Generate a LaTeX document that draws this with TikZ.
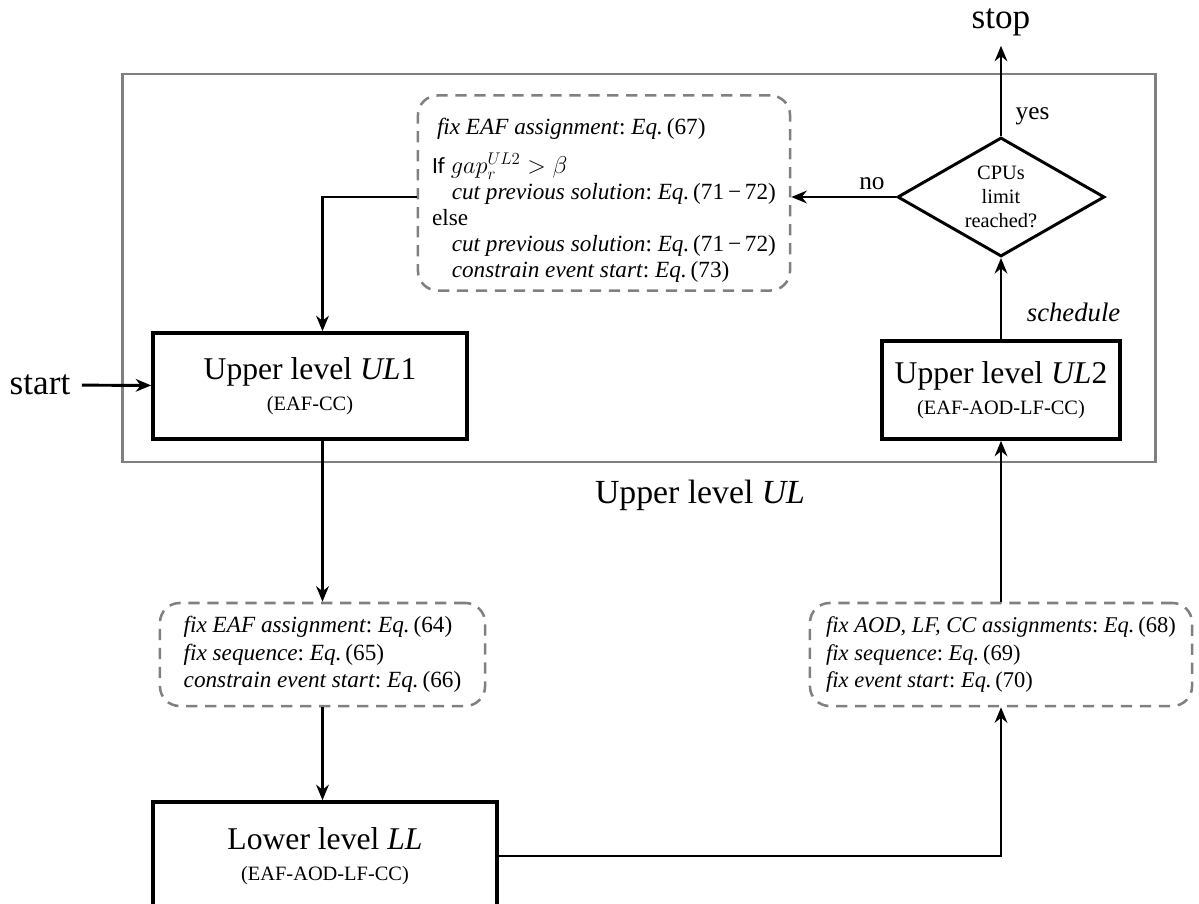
\documentclass[tikz,border=0pt]{standalone}
\usepackage{fontspec}
\setmainfont{Liberation Serif}
\newfontfamily\calfont{Carlito}
\usepackage{tikz}
\usetikzlibrary{positioning,shapes,arrows.meta,shapes.geometric}
\usepackage{amsmath}

\begin{document}
\frenchspacing
\begin{tikzpicture}[x=0.025cm, y=-0.025cm,
    levelbox/.style={draw, line width=2.5pt, align=center, inner sep=0pt,
      font=\fontsize{22.5}{22}\selectfont},
    fixbox/.style={draw=gray, line width=1.8pt, dash pattern=on 8pt off 5.5pt,
      rounded corners=14pt, align=left, inner sep=0pt,
      font=\fontsize{16.5}{19.5}\selectfont},
    flow/.style={line width=2.1pt, -{Stealth[length=11pt,width=9pt]}},
    tag/.style={font=\fontsize{18}{20}\selectfont}]
  \clip (0,0) rectangle (1199,903);
  % upper level frame
  \node[draw=gray, line width=2pt, minimum width=25.8cm, minimum height=9.7cm] (ulframe) at (639,268) {};
  \node[font=\fontsize{24}{26}\selectfont] (ullabel) at (700,495) {Upper level \textit{UL}};

  % levels
  \node[levelbox, minimum width=7.85cm, minimum height=2.65cm] (ul1) at (310,386)
    {Upper level \textit{UL}1\\{\fontsize{14.5}{15}\selectfont (EAF-CC)}};
  \node[levelbox, minimum width=5.95cm, minimum height=2.45cm] (ul2) at (1001,390)
    {Upper level \textit{UL}2\\{\fontsize{14.5}{15}\selectfont (EAF-AOD-LF-CC)}};
  \node[levelbox, minimum width=8.6cm, minimum height=2.7cm] (ll) at (325,856)
    {Lower level \textit{LL}\\{\fontsize{14.5}{15}\selectfont (EAF-AOD-LF-CC)}};
  \node[diamond, draw, line width=2.1pt, aspect=1.74, minimum width=5.175cm, minimum height=2.975cm,
    inner sep=0pt, align=center, font=\fontsize{14.5}{17}\selectfont] (cpu) at (1001,197)
    {CPUs\\limit\\reached?};

  % fixing steps
  \node[fixbox, minimum width=9.3cm, minimum height=4.875cm, font=\fontsize{16.5}{18.6}\selectfont] (cut) at (604,193)
    {\rule{0pt}{22pt}\hspace*{3.5pt}\textit{fix EAF assignment}: \textit{Eq.}\,(67)\\[9pt]
     {\calfont If} $gap_r^{UL2}>\beta$\\
     \hspace*{14pt}\textit{cut previous solution}: \textit{Eq.}\,(71\,−\,72)\\
     else\\
     \hspace*{14pt}\textit{cut previous solution}: \textit{Eq.}\,(71\,−\,72)\\
     \hspace*{14pt}\textit{constrain event start}: \textit{Eq.}\,(73)};
  \node[fixbox, minimum width=8.125cm, minimum height=2.575cm] (fixA) at (322.5,654.5)
    {\textit{fix EAF assignment}: \textit{Eq.}\,(64)\\
     \textit{fix sequence}: \textit{Eq.}\,(65)\\
     \textit{constrain event start}: \textit{Eq.}\,(66)};
  \node[fixbox, minimum width=9.55cm, minimum height=2.575cm, font=\fontsize{16}{19.5}\selectfont] (fixB) at (1001,654.5)
    {\textit{fix AOD, LF, CC assignments}: \textit{Eq.}\,(68)\\
     \textit{fix sequence}: \textit{Eq.}\,(69)\\
     \textit{fix event start}: \textit{Eq.}\,(70)};

  \node[font=\fontsize{25}{28}\selectfont, inner xsep=8pt] (start) at (40,385) {start};
  \node[font=\fontsize{25}{28}\selectfont, inner xsep=4pt, inner ysep=7pt] (stop) at (1001,22) {stop};

  % connectors
  \draw[flow] (start) -- (ul1);
  \draw[flow] (cpu) -- node[tag, right=6pt, pos=0.22] {yes} (stop);
  \draw[flow] (cpu) -- node[tag, above=1pt, pos=0.23] {no} (cut.east |- cpu);
  \draw[flow] (cut.west |- cpu) -| (fixA.north |- ul1.north);
  \draw[flow] (ul1.south -| fixA.north) -- (fixA);
  \draw[flow] (fixA) -- (fixA.south |- ll.north);
  \draw[flow] (ll.east) -| (fixB);
  \draw[flow] (fixB) -- (ul2);
  \draw[flow] (ul2) -- node[tag, font=\fontsize{19}{20}\selectfont, right=14pt, pos=0.33] {\textit{schedule}} (cpu);
\end{tikzpicture}
\end{document}
